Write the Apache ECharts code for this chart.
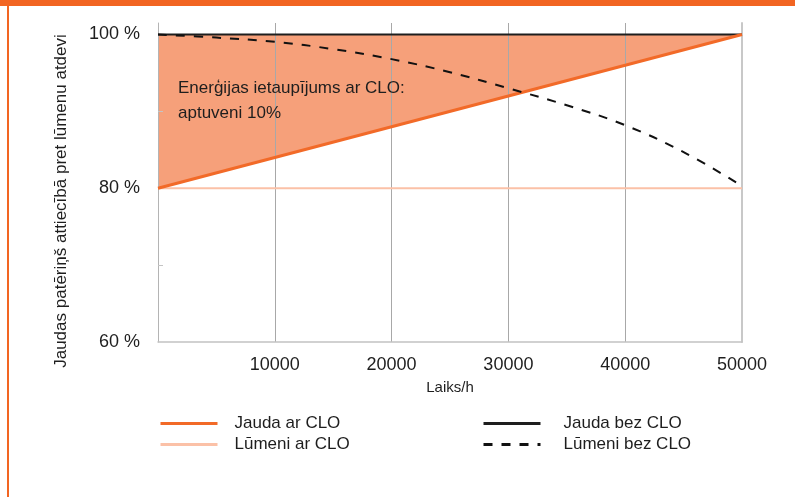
<!DOCTYPE html>
<html>
<head>
<meta charset="utf-8">
<script src="https://cdn.jsdelivr.net/npm/echarts@6/dist/echarts.min.js"></script>
<style>
html,body{margin:0;padding:0;background:#fff;}
#chart{width:795px;height:497px;}
</style>
</head>
<body>
<div id="chart"></div>
<script>
// ---- data ----
const xEnds = [0, 50000];
const jaudaArCLO = [80, 100];
const lumeniArCLO = [80, 80];
const jaudaBezCLO = [100, 100];
const lumeniBezX = [0, 5000, 10000, 15000, 20000, 25000, 30000, 35000, 40000, 45000, 50000];
const lumeniBezCLO = [100, 99.6, 99.05, 98.1, 96.8, 95.1, 93.0, 90.8, 88.2, 84.7, 80.3];
const xTickValues = [10000, 20000, 30000, 40000, 50000];
const yLabelValues = [60, 80, 100];
const yMinorTicks = [70, 90];
const seriesNames = ['Jauda ar CLO', 'Lūmeni ar CLO', 'Jauda bez CLO', 'Lūmeni bez CLO'];
const yAxisTitle = 'Jaudas patēriņš attiecībā pret lūmenu atdevi';
const xAxisTitle = 'Laiks/h';
const noteText = 'Enerģijas ietaupījums ar CLO:\naptuveni 10%';

const pairs = (xs, ys) => xs.map((x, i) => [x, ys[i]]);
const FONT = 'Liberation Sans, Arial, Helvetica, sans-serif';
const TXT = '#1e1e1e';
const ORANGE = '#f26a28';

const chart = echarts.init(document.getElementById('chart'), null, {renderer: 'canvas'});

function legendFor(name, left, top, pad) {
  return {
    data: [name], left: left, top: top, orient: 'vertical', padding: 0,
    itemWidth: 57, itemHeight: 14, selectedMode: false,
    lineStyle: {width: 3},
    itemStyle: {color: 'rgba(0,0,0,0)', borderColor: 'rgba(0,0,0,0)', borderWidth: 0},
    textStyle: {fontSize: 17, fontFamily: FONT, color: TXT, padding: [0, 0, 0, pad]}
  };
}

const option = {
  animation: false,
  backgroundColor: '#fff',
  grid: {left: 158, right: 53, top: 23, bottom: 155},
  legend: [
    legendFor(seriesNames[0], 159, 415, 12),
    legendFor(seriesNames[1], 159, 436, 12),
    legendFor(seriesNames[2], 482, 415, 18),
    legendFor(seriesNames[3], 482, 436, 18)
  ],
  xAxis: {
    type: 'value', min: 0, max: 50000, interval: 10000, z: 3,
    name: xAxisTitle, nameLocation: 'middle', nameGap: 38,
    nameTextStyle: {fontSize: 15, fontFamily: FONT, color: TXT},
    axisLine: {show: true, onZero: false, lineStyle: {color: '#c2c2c2', width: 1.5}},
    axisTick: {show: false},
    axisLabel: {customValues: xTickValues, formatter: v => String(v), margin: 14, fontSize: 18, fontFamily: FONT, color: TXT},
    splitLine: {show: true, showMinLine: false, showMaxLine: false, lineStyle: {color: '#a8a8a8', width: 1}}
  },
  yAxis: [{
    type: 'value', min: 60, max: 101.5, interval: 10, z: 3,
    axisLine: {show: true, onZero: false, lineStyle: {color: '#b4b4b4', width: 1}},
    axisTick: {show: true, inside: true, length: 5, customValues: yMinorTicks, lineStyle: {color: '#c4c4c4'}},
    axisLabel: {customValues: yLabelValues, formatter: v => v + ' %', margin: 18, fontSize: 18, fontFamily: FONT, color: TXT},
    splitLine: {show: false}
  }, {
    type: 'value', min: 60, max: 101.5, position: 'right', z: 3,
    axisLine: {show: true, onZero: false, lineStyle: {color: '#c8c8c8', width: 2}},
    axisTick: {show: false}, axisLabel: {show: false}, splitLine: {show: false}
  }],
  series: [
    {
      name: 'fill-upper', type: 'line', z: 1, silent: true, symbol: 'none',
      data: pairs(xEnds, jaudaBezCLO), lineStyle: {opacity: 0},
      areaStyle: {color: '#f6a07a', opacity: 1, origin: 'start'}
    },
    {
      name: 'fill-lower', type: 'line', z: 1, silent: true, symbol: 'none',
      data: pairs(xEnds, jaudaArCLO), lineStyle: {opacity: 0},
      areaStyle: {color: '#ffffff', opacity: 1, origin: 'start'}
    },
    {
      name: seriesNames[1], type: 'line', z: 4, symbol: 'none',
      data: pairs(xEnds, lumeniArCLO), lineStyle: {color: '#fbc1a7', width: 2},
      itemStyle: {color: '#fbc1a7'}
    },
    {
      name: seriesNames[2], type: 'line', z: 4, symbol: 'none',
      data: pairs(xEnds, jaudaBezCLO), lineStyle: {color: '#1e1e1e', width: 2},
      itemStyle: {color: '#1e1e1e'}
    },
    {
      name: seriesNames[0], type: 'line', z: 5, symbol: 'none',
      data: pairs(xEnds, jaudaArCLO), lineStyle: {color: ORANGE, width: 3},
      itemStyle: {color: ORANGE}
    },
    {
      name: seriesNames[3], type: 'line', z: 6, symbol: 'none', smooth: 0.4,
      data: pairs(lumeniBezX, lumeniBezCLO),
      lineStyle: {color: '#111', width: 2, type: [9, 9]},
      itemStyle: {color: '#111'}
    }
  ],
  graphic: [
    {type: 'rect', shape: {x: 0, y: 0, width: 795, height: 6}, style: {fill: '#f26522'}, silent: true},
    {type: 'rect', shape: {x: 7, y: 0, width: 2, height: 497}, style: {fill: '#f26522'}, silent: true},
    {
      type: 'text', x: 61, y: 201, rotation: Math.PI / 2, silent: true,
      style: {text: yAxisTitle, fontSize: 17, fontFamily: FONT, fill: TXT, align: 'center', verticalAlign: 'middle'}
    },
    {
      type: 'text', x: 178, y: 76, silent: true, z: 10,
      style: {text: noteText, fontSize: 17, lineHeight: 25, fontFamily: FONT, fill: TXT, align: 'left', verticalAlign: 'top'}
    }
  ]
};
chart.setOption(option);
</script>
</body>
</html>
